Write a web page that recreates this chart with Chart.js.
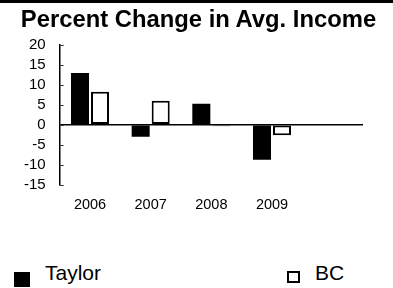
<!DOCTYPE html>
<html>
<head>
<meta charset="utf-8">
<script src="https://cdn.jsdelivr.net/npm/chart.js@4"></script>
<style>
  body { margin: 0; background: #fff; }
  #wrap { position: relative; width: 393px; height: 288px; overflow: hidden; }
  #topline { position: absolute; left: 0; top: 0; width: 393px; height: 3px; background: #000; }
  #title { position: absolute; left: 0; top: 7px; width: 397px; text-align: center; line-height: 1;
           font-family: Arial, "Liberation Sans", sans-serif; font-size: 23.8px; font-weight: bold; color: #000; white-space: nowrap; }
  #chartBox { position: absolute; left: 0; top: 0; width: 393px; height: 240px; }
  .leg { position: absolute; font-family: Arial, "Liberation Sans", sans-serif; font-size: 21px; color: #000; }
  .sw { position: absolute; box-sizing: border-box; }
</style>
</head>
<body>
<div id="wrap">
  <div id="chartBox"><canvas id="incomeChart"></canvas></div>
  <div id="topline"></div>
  <div id="title"></div>
  <div class="sw" style="left:14px; top:272px; width:16px; height:15px; background:#000;"></div>
  <div class="leg" style="left:45px; top:261px;">Taylor</div>
  <div class="sw" style="left:287px; top:271px; width:13px; height:12px; border:2px solid #000; background:#fff;"></div>
  <div class="leg" style="left:315px; top:261px;">BC</div>
</div>
<script>
const title = 'Percent Change in Avg. Income'

// data
const years = ['2006', '2007', '2008', '2009', '']
const taylor = [13, -3, 5.3, -8.8, null]
const bc = [8.3, 6, -0.4, -2.6, null]
const yTicks = [-15, -10, -5, 0, 5, 10, 15, 20]

const FONT = 'Arial, "Liberation Sans", sans-serif'

document.getElementById('title').textContent = title

// small tick marks drawn on the inside of the y axis
const innerTicks = {
    id: 'innerTicks',
    afterDraw(chart) {
        const y = chart.scales.y
        const c = chart.ctx
        c.save()
        c.strokeStyle = '#333'
        c.lineWidth = 1
        y.ticks.forEach(t => {
            const py = Math.round(y.getPixelForValue(t.value)) + 0.5
            c.beginPath()
            c.moveTo(y.right, py)
            c.lineTo(y.right + 4, py)
            c.stroke()
        })
        c.restore()
    }
}

var ctx = document.getElementById('incomeChart')
var myChart = new Chart(ctx, {
    type: 'bar',
    data: {
        labels: years,
        datasets: [{
            label: 'Taylor',
            data: taylor,
            backgroundColor: '#000',
            borderColor: '#000',
            borderWidth: 0,
            categoryPercentage: 0.66,
            barPercentage: 0.9
        },
        {
            label: 'BC',
            data: bc,
            backgroundColor: '#fff',
            borderColor: '#000',
            borderWidth: 2,
            borderSkipped: false,
            categoryPercentage: 0.66,
            barPercentage: 0.9
        }]
    },
    options: {
        responsive: true,
        maintainAspectRatio: false,
        animation: false,
        layout: { padding: { left: 10, right: 30, top: 45, bottom: 22 } },
        plugins: {
            legend: { display: false },
            tooltip: { enabled: false },
            title: { display: false }
        },
        scales: {
            x: {
                grid: { display: false },
                border: { display: false },
                ticks: { color: '#000', font: { family: FONT, size: 14.5 }, padding: 4, maxRotation: 0 }
            },
            y: {
                min: -15,
                max: 20,
                afterBuildTicks: axis => { axis.ticks = yTicks.map(v => ({ value: v })) },
                border: { display: true, color: '#000', width: 1.5 },
                grid: {
                    drawTicks: false,
                    color: c => c.tick && c.tick.value === 0 ? '#000' : 'rgba(0,0,0,0)',
                    lineWidth: 1.5
                },
                ticks: { color: '#000', font: { family: FONT, size: 15 }, padding: 14, autoSkip: false }
            }
        }
    },
    plugins: [innerTicks]
})
</script>
</body>
</html>
